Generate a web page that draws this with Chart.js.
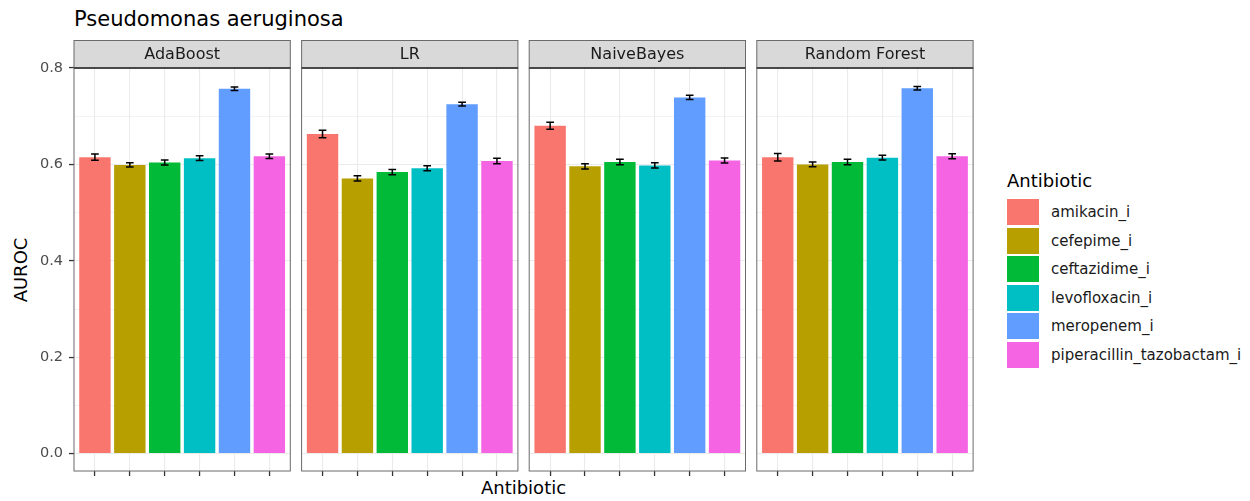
<!DOCTYPE html>
<html><head><meta charset="utf-8">
<script src="https://cdn.jsdelivr.net/npm/chart.js@4.4.1/dist/chart.umd.min.js"></script>
<style>
html,body{margin:0;padding:0;background:#fff;}
body{width:1250px;height:501px;position:relative;overflow:hidden;font-family:"DejaVu Sans","Liberation Sans",Arial,sans-serif;}
canvas{position:absolute;left:0;top:0;}
.t{position:absolute;white-space:nowrap;}
</style></head><body>
<div class="t" id="title" style="left:74px;top:8.9px;font-size:21px;line-height:21px;color:#000;"></div>
<div class="t" id="xtitle" style="left:523.5px;top:478.8px;font-size:18px;line-height:18px;color:#000;transform:translateX(-50%);"></div>
<div class="t" id="ytitle" style="left:21px;top:269.5px;font-size:18px;line-height:18px;color:#000;transform:translate(-50%,-50%) rotate(-90deg);"></div>
<div id="legend"></div>
<script>
// ---------- data ----------
const chartTitle = 'Pseudomonas aeruginosa';
const xTitle = 'Antibiotic';
const yTitle = 'AUROC';
const legendTitle = 'Antibiotic';
const models = ['AdaBoost', 'LR', 'NaiveBayes', 'Random Forest'];
const antibiotics = ['amikacin_i', 'cefepime_i', 'ceftazidime_i', 'levofloxacin_i', 'meropenem_i', 'piperacillin_tazobactam_i'];
const antibioticColors = ['#F8766D', '#B79F00', '#00BA38', '#00BFC4', '#619CFF', '#F564E3'];
const xPositions = [1, 2, 3, 4, 5, 6];

const aurocAdaBoost     = [0.615, 0.599, 0.604, 0.613, 0.757, 0.617];
const aurocLR           = [0.663, 0.571, 0.584, 0.592, 0.725, 0.607];
const aurocNaiveBayes   = [0.680, 0.596, 0.605, 0.598, 0.739, 0.608];
const aurocRandomForest = [0.615, 0.600, 0.605, 0.614, 0.758, 0.617];

const errAdaBoost     = [0.0065, 0.0046, 0.0052, 0.0048, 0.0035, 0.0048];
const errLR           = [0.0077, 0.0056, 0.0056, 0.0052, 0.0040, 0.0056];
const errNaiveBayes   = [0.0073, 0.0056, 0.0056, 0.0052, 0.0045, 0.0052];
const errRandomForest = [0.0077, 0.0050, 0.0056, 0.0050, 0.0038, 0.0050];

const yMajorTicks = [0, 0.2, 0.4, 0.6, 0.8];
const yTickLabels = ['0.0', '0.2', '0.4', '0.6', '0.8'];
const yMinorTicks = [0.1, 0.3, 0.5, 0.7];

const modelValues = [aurocAdaBoost, aurocLR, aurocNaiveBayes, aurocRandomForest];
const modelErrors = [errAdaBoost, errLR, errNaiveBayes, errRandomForest];

// ---------- layout ----------
const W = 1250, H = 501;
const FONT = '"DejaVu Sans", "Liberation Sans", Arial, sans-serif';
const panelLeft = [74, 301.6, 529.2, 756.8];
const panelWidth = 216.3;
const panelTop = 68, panelBottom = 471, stripTop = 40.5;
const yAxisWidth = 74;

document.getElementById('title').textContent = chartTitle;
document.getElementById('xtitle').textContent = xTitle;
document.getElementById('ytitle').textContent = yTitle;

// legend
const leg = document.getElementById('legend');
const lt = document.createElement('div');
lt.className = 't';
lt.style.cssText = 'left:1007px;top:171.5px;font-size:18px;line-height:18px;color:#000;';
lt.textContent = legendTitle;
leg.appendChild(lt);
antibiotics.forEach((name, i) => {
  const top = 199 + i * 28.6;
  const key = document.createElement('div');
  key.style.cssText = `position:absolute;left:1007px;top:${top}px;width:32px;height:26px;background:${antibioticColors[i]};`;
  leg.appendChild(key);
  const lab = document.createElement('div');
  lab.className = 't';
  lab.style.cssText = `left:1051px;top:${top}px;height:26px;line-height:26px;font-size:15px;color:#1A1A1A;`;
  lab.textContent = name;
  leg.appendChild(lab);
});

const allGrid = yMajorTicks.concat(yMinorTicks).sort((a, b) => a - b);
const isMajor = v => yMajorTicks.some(m => Math.abs(m - v) < 1e-9);

function panelPlugin(k) {
  return {
    id: 'panel' + k,
    afterDatasetsDraw(chart) {
      const ctx = chart.ctx, xs = chart.scales.x, ys = chart.scales.y;
      const vals = modelValues[k], errs = modelErrors[k];
      ctx.save();
      ctx.strokeStyle = '#000';
      ctx.lineWidth = 1.5;
      xPositions.forEach((xv, i) => {
        const x = xs.getPixelForValue(xv);
        const xl = xs.getPixelForValue(xv - 0.11);
        const xr = xs.getPixelForValue(xv + 0.11);
        const yt = ys.getPixelForValue(vals[i] + errs[i]);
        const yb = ys.getPixelForValue(vals[i] - errs[i]);
        ctx.beginPath();
        ctx.moveTo(x, yt); ctx.lineTo(x, yb);
        ctx.moveTo(xl, yt); ctx.lineTo(xr, yt);
        ctx.moveTo(xl, yb); ctx.lineTo(xr, yb);
        ctx.stroke();
      });
      ctx.restore();
    },
    afterDraw(chart) {
      const ctx = chart.ctx, a = chart.chartArea;
      ctx.save();
      // strip
      ctx.fillStyle = '#D9D9D9';
      ctx.fillRect(a.left, stripTop, a.right - a.left, a.top - stripTop);
      ctx.strokeStyle = '#6b6b6b';
      ctx.lineWidth = 1;
      ctx.strokeRect(a.left, stripTop, a.right - a.left, a.top - stripTop);
      ctx.fillStyle = '#1A1A1A';
      ctx.font = '16px ' + FONT;
      ctx.textAlign = 'center';
      ctx.textBaseline = 'alphabetic';
      ctx.fillText(models[k], (a.left + a.right) / 2, 59.3);
      // panel border
      ctx.strokeStyle = '#6b6b6b';
      ctx.strokeRect(a.left, a.top, a.right - a.left, a.bottom - a.top);
      ctx.strokeStyle = '#333333';
      ctx.lineWidth = 1.5;
      ctx.beginPath(); ctx.moveTo(a.left, a.top); ctx.lineTo(a.right, a.top); ctx.stroke();
      ctx.restore();
    }
  };
}

models.forEach((m, k) => {
  const cv = document.createElement('canvas');
  cv.width = W; cv.height = H;
  cv.style.width = W + 'px'; cv.style.height = H + 'px';
  document.body.appendChild(cv);
  new Chart(cv, {
    type: 'bar',
    data: {
      datasets: [{
        label: m,
        data: xPositions.map((x, i) => ({ x: x, y: modelValues[k][i] })),
        backgroundColor: antibioticColors,
        borderWidth: 0,
        barPercentage: 0.9,
        categoryPercentage: 1.0
      }]
    },
    options: {
      responsive: false,
      animation: false,
      events: [],
      layout: { padding: { left: k === 0 ? 0 : panelLeft[k], right: W - (panelLeft[k] + panelWidth), top: panelTop, bottom: 0 } },
      plugins: { legend: { display: false }, tooltip: { enabled: false }, title: { display: false } },
      scales: {
        x: {
          type: 'linear', min: 0.4, max: 6.6, offset: false,
          afterBuildTicks: s => { s.ticks = xPositions.map(v => ({ value: v })); },
          afterFit: s => { s.height = H - panelBottom; },
          ticks: { display: false },
          grid: { offset: false, color: '#EBEBEB', lineWidth: 1.1, drawTicks: true, tickLength: 5, tickColor: '#333333', tickWidth: 1.3 },
          border: { display: false }
        },
        y: {
          type: 'linear', min: -0.036, max: 0.8,
          afterBuildTicks: s => { s.ticks = allGrid.map(v => ({ value: v })); },
          afterFit: s => { s.width = k === 0 ? yAxisWidth : 0; },
          ticks: {
            display: k === 0,
            autoSkip: false,
            padding: 6,
            color: '#4D4D4D',
            font: { family: FONT, size: 14.5 },
            callback: (v) => { const idx = yMajorTicks.findIndex(t => Math.abs(t - v) < 1e-9); return idx >= 0 ? yTickLabels[idx] : ''; }
          },
          grid: {
            offset: false,
            color: '#EBEBEB',
            lineWidth: c => (c.tick && isMajor(c.tick.value)) ? 1.1 : 0.6,
            drawTicks: k === 0,
            tickLength: 5,
            tickWidth: 1.3,
            tickColor: c => (c.tick && isMajor(c.tick.value)) ? '#333333' : 'rgba(0,0,0,0)'
          },
          border: { display: false }
        }
      }
    },
    plugins: [panelPlugin(k)]
  });
});
</script>
</body></html>
